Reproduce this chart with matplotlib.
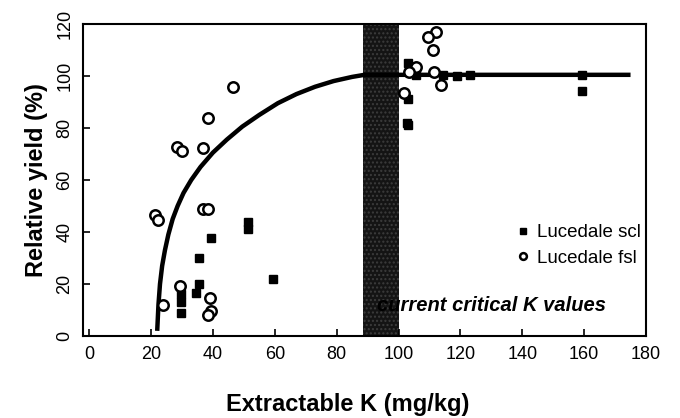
import matplotlib.pyplot as plt
import numpy as np

plt.rcParams['font.family'] = ['Liberation Sans', 'DejaVu Sans']

# Lucedale scl (filled squares)
scl_x = [29.7, 29.7, 29.7, 34.6, 35.6, 35.4, 39.4, 51.4, 51.4, 59.5,
         103.0, 103.2, 102.6, 103.0, 105.6, 114.4, 119.0, 123.2, 159.2, 159.2]
scl_y = [9, 13, 16, 16.4, 20, 30, 37.8, 41, 44, 22.1,
         105, 91.3, 82, 81, 100.2, 100.2, 100, 100.2, 100.2, 94.2]

# Lucedale fsl (open circles)
fsl_x = [21.2, 22.2, 23.9, 29.5, 36.9, 38.3, 39.2, 39.4, 38.5,
         28.5, 30.1, 36.7, 38.4, 46.5,
         112.2, 109.4, 111.3, 105.6, 103.4, 111.5, 113.6, 101.8]
fsl_y = [46.5, 44.7, 11.9, 19.2, 49, 49, 14.7, 9.6, 8.1,
         72.6, 71.1, 72.4, 83.9, 95.9,
         117, 115, 110, 103.4, 101.5, 101.5, 96.4, 93.6]

# response curve
curve_x = [22.0, 22.4, 22.9, 23.6, 24.5, 25.6, 27.0, 28.6, 30.5, 33.0, 36.0,
           40.0, 44.5, 49.5, 55.0, 61.0, 67.0, 73.0, 79.0, 85.0, 89.0, 175.0]
curve_y = [2, 12, 20, 27, 33, 39, 45, 50, 55, 60, 65,
           70.5, 75.5, 80.5, 85, 89.5, 93, 95.8, 98, 99.6, 100.4, 100.4]

crit_lo, crit_hi = 88.5, 100.0

fig = plt.figure(figsize=(6.8, 4.18), dpi=100)
ax = fig.add_axes([0.122, 0.196, 0.828, 0.747])

ax.axvspan(crit_lo, crit_hi, facecolor='#141414', edgecolor='#3c3c3c',
           hatch='....', linewidth=0, zorder=1)
ax.plot(curve_x, curve_y, color='black', lw=3.2, solid_capstyle='butt',
        solid_joinstyle='round', zorder=2)
ax.plot(scl_x, scl_y, 's', color='black', ms=6, zorder=3, label='Lucedale scl')
ax.plot(fsl_x, fsl_y, 'o', mfc='white', mec='black', mew=1.8, ms=7.5,
        zorder=4, label='Lucedale fsl')

ax.text(93, 11.8, 'current critical K values', fontsize=14.5, fontweight='bold',
        style='italic', va='center', ha='left', zorder=5)

ax.set_xlim(-2, 180)
ax.set_ylim(0, 120)
ax.set_xticks(np.arange(0, 181, 20))
ax.set_yticks(np.arange(0, 121, 20))
ax.tick_params(direction='in', length=5, width=1.2, labelsize=13, pad=7)
for lab in ax.get_yticklabels():
    lab.set_rotation(90)
    lab.set_va('center')
for s in ax.spines.values():
    s.set_linewidth(1.5)

ax.set_xlabel('Extractable K (mg/kg)', fontsize=17, fontweight='bold')
ax.xaxis.set_label_coords(0.47, -0.218)
ax.xaxis.label.set_va('center')
ax.set_ylabel('Relative yield (%)', fontsize=17, fontweight='bold', labelpad=6)

leg = ax.legend(loc='upper right', bbox_to_anchor=(1.01, 0.395), frameon=False,
                fontsize=13.5, handletextpad=0.1, markerscale=0.65,
                borderaxespad=0.2, labelspacing=0.45, handlelength=1.2)

fig.savefig('out.png', dpi=100)
